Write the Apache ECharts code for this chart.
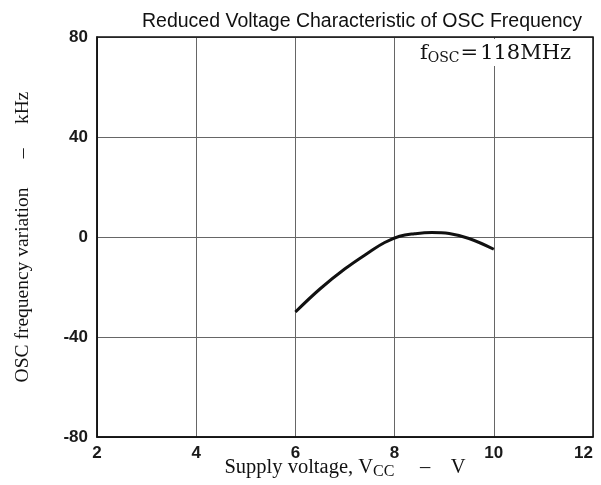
<!DOCTYPE html>
<html><head><meta charset="utf-8">
<script src="https://cdn.jsdelivr.net/npm/echarts@6/dist/echarts.min.js"></script>
<style>html,body{margin:0;padding:0;background:#fff}#c{width:601px;height:485px}</style>
</head><body><div id="c"></div>
<script>
const voltage = [6, 6.5, 7, 7.5, 7.8, 8.1, 8.4, 8.75, 9.1, 9.5, 10];
const freqVariation = [-30, -20.7, -12.7, -5.9, -2.2, 0.3, 1.3, 1.8, 1.4, -0.6, -4.9];
const xTicks = [2, 4, 6, 8, 10, 12];
const yTicks = [-80, -40, 0, 40, 80];

const chart = echarts.init(document.getElementById('c'));
const tickFont = {fontFamily: 'Liberation Sans', fontWeight: 'bold', fontSize: 17, color: '#1a1a1a'};
chart.setOption({
  animation: false,
  title: {
    text: 'Reduced Voltage Characteristic of OSC Frequency',
    left: 357, top: 7, textAlign: 'center',
    textStyle: {fontFamily: 'Liberation Sans', fontWeight: 'normal', fontSize: 19.5, color: '#111'}
  },
  grid: {left: 97, right: 8, top: 37, bottom: 48, outerBoundsMode: 'none', containLabel: false},
  xAxis: {
    type: 'value', min: xTicks[0], max: xTicks[xTicks.length-1], interval: 2,
    axisLine: {show: true, onZero: false, lineStyle: {color: '#111', width: 1.5}},
    axisTick: {show: false},
    splitLine: {show: true, lineStyle: {color: '#666', width: 1}},
    axisLabel: Object.assign({margin: 8, alignMaxLabel: 'right'}, tickFont),
    name: 'Supply voltage, V{s|CC}     –    V',
    nameLocation: 'middle', nameGap: 18, nameMoveOverlap: false,
    nameTextStyle: {fontFamily: 'Liberation Serif', fontSize: 20.5, color: '#111',
      rich: {s: {fontFamily: 'Liberation Serif', fontSize: 16, color: '#111', padding: [9,0,0,0]}}}
  },
  yAxis: {
    type: 'value', min: yTicks[0], max: yTicks[yTicks.length-1], interval: 40,
    axisLine: {show: true, onZero: false, lineStyle: {color: '#111', width: 1.5}},
    axisTick: {show: false},
    splitLine: {show: true, lineStyle: {color: '#666', width: 1}},
    axisLabel: Object.assign({margin: 9}, tickFont),
    name: 'OSC frequency variation      –     kHz',
    nameLocation: 'middle', nameGap: 64, nameRotate: 90, nameMoveOverlap: false,
    nameTextStyle: {fontFamily: 'Liberation Serif', fontSize: 19.5, color: '#111'}
  },
  graphic: [
    {type: 'rect', shape: {x: 412, y: 39, width: 178, height: 27}, style: {fill: '#fff'}, z: 50},
    {type: 'rect', shape: {x: 97, y: 37, width: 496, height: 400}, style: {fill: 'none', stroke: '#111', lineWidth: 1.5}, silent: true, z: 100},
    {type: 'text', left: 420, top: 43, z: 60,
      style: {text: 'f{s|OSC}{e|=}118MHz', fontFamily: 'DejaVu Serif', fontSize: 21, fill: '#111',
        rich: {s: {fontFamily: 'DejaVu Serif', fontSize: 14, fill: '#111', padding: [9,0,0,0]},
               e: {fontFamily: 'DejaVu Serif', fontSize: 21, fill: '#111', padding: [0,2,0,1]}}}}
  ],
  series: [{
    type: 'line', smooth: 0.4, showSymbol: false,
    data: voltage.map((v, i) => [v, freqVariation[i]]),
    lineStyle: {color: '#111', width: 3}
  }]
});
</script></body></html>
